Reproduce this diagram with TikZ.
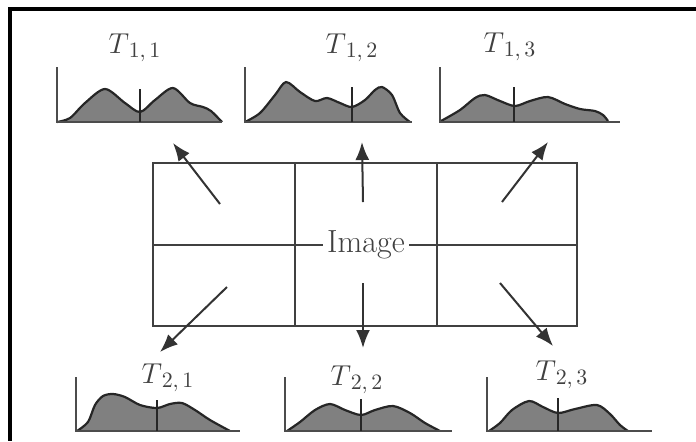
\documentclass[tikz,border=0pt]{standalone}
\usepackage{amsfonts, amsmath, amssymb}
\usepackage{tikz}
\usetikzlibrary{arrows.meta}

\begin{document}
\begin{tikzpicture}[x=0.5pt, y=-0.5pt, >={Latex[length=9pt, width=7pt]}]
    \useasboundingbox (0,0) rectangle (696,441);

    % Styles
    \tikzset{
        gridline/.style={black!75, line width=0.9pt},
        flow/.style={->, black!80, line width=1pt},
        histfill/.style={fill=black!50},
        histline/.style={black!85, line width=1.1pt},
        axisline/.style={black!70, line width=0.8pt},
        markline/.style={black!85, line width=1.4pt},
        title/.style={text=black!75, font=\fontsize{15}{17}\selectfont}
    }

    % Outer frame (cut off at right and bottom)
    \draw[line width=1.8pt] (696,9) -- (10,9) -- (10,441);

    % Image grid
    \draw[gridline] (153,163) rectangle (577,326);
    \draw[gridline] (295,163) -- (295,326);
    \draw[gridline] (437,163) -- (437,326);
    \draw[gridline] (153,245) -- (577,245);
    \node[fill=white, inner sep=2pt, text=black!75, font=\fontsize{16}{18}\selectfont] (img) at (366,245) {Image};

    % Histogram macro: axis x, axis top, baseline y, baseline end, marker x, marker top, curve
    \newcommand{\histo}[7]{
        \fill[histfill] plot[smooth] coordinates {#7} -- cycle;
        \draw[histline] plot[smooth] coordinates {#7};
        \draw[axisline] (#1,#2) -- (#1,#3) -- (#4,#3);
        \draw[markline] (#5,#6) -- (#5,#3);
    }

    % Top row
    \histo{57}{67}{122}{222}{140}{89}{(57,122) (70,118) (85,103) (105,89) (125,103) (140,112) (155,100) (173,88) (190,103) (203,107) (211,111) (222,122)}
    \histo{245}{67}{122}{412}{352}{87}{(245,122) (260,113) (275,95) (286,82) (300,92) (315,101) (327,98) (340,103) (352,107) (365,100) (375,90) (382,87) (392,95) (400,113) (410,122)}
    \histo{440}{67}{122}{620}{514}{87}{(441,121) (460,110) (475,98) (485,95) (500,101) (515,106) (530,101) (548,97) (565,104) (580,109) (595,111) (603,115) (608,121)}

    % Bottom row
    \histo{76}{377}{431}{240}{157}{400}{(77,431) (88,422) (95,405) (103,396) (113,394) (125,397) (140,405) (157,408) (170,404) (182,403) (195,410) (210,420) (230,431)}
    \histo{285}{377}{431}{452}{361}{399}{(287,431) (300,422) (315,410) (330,404) (345,410) (361,415) (375,410) (393,406) (410,413) (425,423) (440,431)}
    \histo{487}{377}{431}{652}{558}{398}{(489,431) (500,423) (512,410) (529,401) (543,407) (558,413) (575,409) (597,405) (610,414) (620,425) (628,431)}

    % Titles
    \node[title] (t11) at (135,48) {$T_{\,1,\,1}$};
    \node[title] (t12) at (352,48) {$T_{\,1,\,2}$};
    \node[title] (t13) at (510,47) {$T_{\,1,\,3}$};
    \node[title] (t21) at (168,378) {$T_{\,2,\,1}$};
    \node[title] (t22) at (357,380) {$T_{\,2,\,2}$};
    \node[title] (t23) at (562,375) {$T_{\,2,\,3}$};

    % Arrows from the cells to their histograms
    \coordinate (c11) at (220,204);
    \coordinate (c12) at (363,202);
    \coordinate (c13) at (502,202);
    \coordinate (c21) at (227,287);
    \coordinate (c22) at (363,283);
    \coordinate (c23) at (500,283);
    \coordinate (h11) at (173,143);
    \coordinate (h12) at (362,142);
    \coordinate (h13) at (548,142);
    \coordinate (h21) at (160,352);
    \coordinate (h22) at (363,348);
    \coordinate (h23) at (553,346);
    \foreach \i in {11,12,13,21,22,23}
        \draw[flow] (c\i) -- (h\i);
\end{tikzpicture}
\end{document}
